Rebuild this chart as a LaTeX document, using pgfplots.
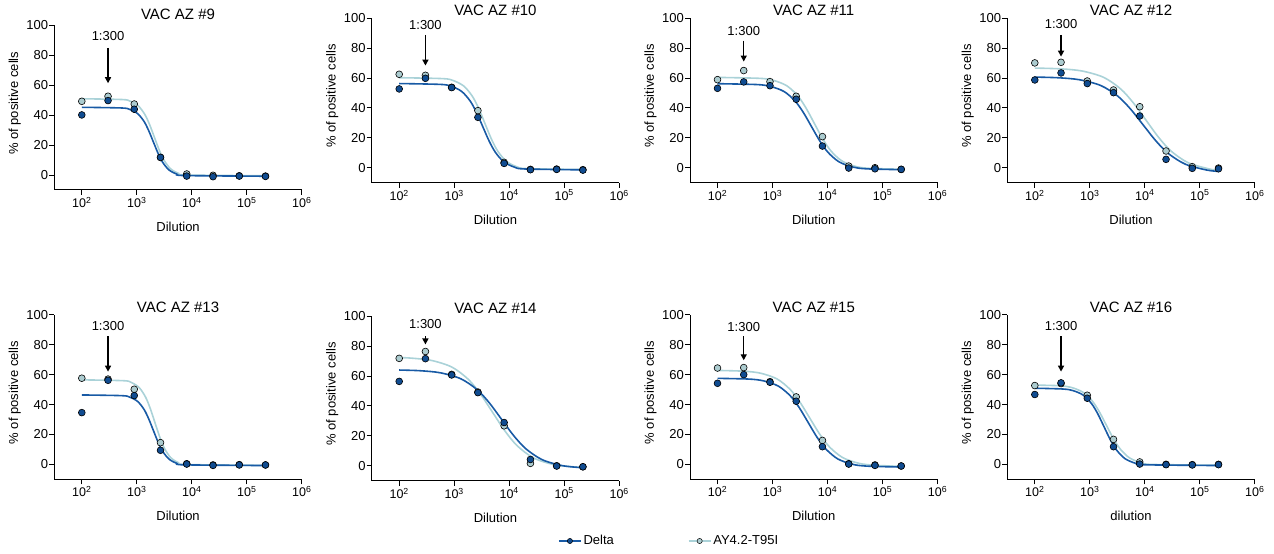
\documentclass[border=0pt]{standalone}
\usepackage{fontspec}
\setmainfont{Liberation Sans}
\usepackage{pgfplots}
\pgfplotsset{compat=1.18}
\usetikzlibrary{arrows.meta}

\definecolor{deltafill}{RGB}{16,76,145}
\definecolor{deltaline}{RGB}{24,90,165}
\definecolor{ayfill}{RGB}{172,204,208}
\definecolor{ayline}{RGB}{170,210,216}

\newcommand{\ticksize}{\fontsize{13}{15}\selectfont}
\newcommand{\xticksize}{\fontsize{12.5}{14}\selectfont}

\pgfplotsset{
  panel/.style={
    anchor=south west,
    scale only axis, width=247.5pt, height=164.5pt,
    xmin=1.5, xmax=6, ymin=-10, ymax=100,
    axis x line*=bottom, axis y line*=left,
    axis line style={line width=1pt, -},
    xtick={2,3,4,5,6},
    xticklabels={10\textsuperscript{2},10\textsuperscript{3},10\textsuperscript{4},10\textsuperscript{5},10\textsuperscript{6}},
    ytick={0,20,40,60,80,100},
    tick align=outside, major tick length=5pt,
    every tick/.style={line width=1pt, black},
    /pgf/number format/assume math mode=true,
    yticklabel style={font=\ticksize, inner sep=1pt},
    xticklabel style={font=\xticksize, inner sep=2pt},
    xlabel={Dilution}, ylabel={\% of positive cells},
    xlabel style={font=\ticksize, at={(axis description cs:0.5,0)}, anchor=base, yshift=-41.5pt},
    ylabel style={font=\ticksize, at={(axis description cs:-0.1596,0.527)}, anchor=center},
    title style={font=\fontsize{15}{17}\selectfont, at={(axis description cs:0.5,1)}, anchor=base, yshift=-3.4pt},
    clip=false,
  },
  curveD/.style={deltaline, line width=1.6pt, smooth, no marks},
  curveA/.style={ayline, line width=1.6pt, smooth, no marks},
  ptsD/.style={only marks, mark=*, mark size=3.4pt, mark options={fill=deltafill, draw=black, line width=0.6pt}},
  ptsA/.style={only marks, mark=*, mark size=3.4pt, mark options={fill=ayfill, draw=black, line width=0.6pt}},
}

% arrow and "1:300" label: text height, arrow start, arrow tip
\newcommand{\marker}[3]{%
  \node[font=\fontsize{13}{15}\selectfont, anchor=center] at (axis cs:2.477,#1) {1:300};
  \draw[line width=1.4pt, -{Triangle[length=6pt,width=6pt]}] (axis cs:2.477,#2) -- (axis cs:2.477,#3);
}

\begin{document}
\begin{tikzpicture}[x=1pt,y=1pt]
\useasboundingbox (0,0) rectangle (1274,554);

% ---------------- VAC AZ #9
\begin{axis}[panel, at={(54.3pt,364pt)}, title={VAC AZ \#9}, title style={yshift=3.4pt}]
\addplot[curveA] coordinates {(2,51.0)(2.732,50.49)(2.879,49.40)(3.026,46.31)(3.144,40.65)(3.232,33.80)(3.32,25.25)(3.408,16.70)(3.496,9.85)(3.614,4.18)(3.761,1.08)(3.908,0.01)(5.34,-0.5)};
\addplot[curveD] coordinates {(2,45.3)(2.729,44.84)(2.871,43.87)(3.014,41.10)(3.129,36.03)(3.214,29.90)(3.30,22.25)(3.386,14.60)(3.471,8.47)(3.586,3.39)(3.729,0.62)(3.871,-0.34)(5.34,-0.8)};
\addplot[ptsA] coordinates {(2,49.3)(2.477,52.7)(2.954,47.5)(3.431,11.8)(3.908,0.7)(4.386,-0.2)(4.863,-0.5)(5.340,-0.7)};
\addplot[ptsD] coordinates {(2,40.2)(2.477,49.8)(2.954,44.0)(3.431,11.8)(3.908,-0.7)(4.386,-1.1)(4.863,-0.7)(5.340,-0.9)};
\marker{92.8}{85}{61.4}
\end{axis}

% ---------------- VAC AZ #10
\begin{axis}[panel, at={(371.7pt,371.3pt)}, title={VAC AZ \#10}]
\addplot[curveA] coordinates {(2,60.2)(2.791,59.59)(2.983,58.30)(3.175,54.61)(3.329,47.86)(3.445,39.69)(3.56,29.50)(3.675,19.31)(3.791,11.14)(3.945,4.38)(4.137,0.68)(4.329,-0.59)(5.34,-1.2)};
\addplot[curveD] coordinates {(2,56.3)(2.751,55.72)(2.943,54.51)(3.135,51.05)(3.289,44.70)(3.405,37.03)(3.52,27.45)(3.635,17.87)(3.751,10.20)(3.905,3.84)(4.097,0.37)(4.289,-0.83)(5.34,-1.4)};
\addplot[ptsA] coordinates {(2,62.5)(2.477,61.8)(2.954,53.8)(3.431,38.2)(3.908,3.6)(4.386,-1.1)(4.863,-0.9)(5.340,-1.3)};
\addplot[ptsD] coordinates {(2,52.7)(2.477,59.8)(2.954,53.6)(3.431,33.7)(3.908,2.9)(4.386,-1.3)(4.863,-1.1)(5.340,-1.6)};
\marker{95.5}{88.8}{68.3}
\end{axis}

% ---------------- VAC AZ #11
\begin{axis}[panel, at={(690pt,371.3pt)}, title={VAC AZ \#11}]
\addplot[curveA] coordinates {(2,60.4)(2.76,59.79)(3.01,58.50)(3.26,54.81)(3.46,48.06)(3.61,39.89)(3.76,29.70)(3.91,19.51)(4.06,11.34)(4.26,4.58)(4.51,0.88)(4.76,-0.39)(5.34,-1.0)};
\addplot[curveD] coordinates {(2,56.2)(2.71,55.63)(2.96,54.42)(3.21,50.97)(3.41,44.64)(3.56,37.00)(3.71,27.45)(3.86,17.91)(4.01,10.26)(4.21,3.93)(4.46,0.47)(4.71,-0.73)(5.34,-1.3)};
\addplot[ptsA] coordinates {(2,58.9)(2.477,65.0)(2.954,57.6)(3.431,47.8)(3.908,20.8)(4.386,1.1)(4.863,0.0)(5.340,-1.1)};
\addplot[ptsD] coordinates {(2,53.1)(2.477,57.4)(2.954,54.9)(3.431,45.8)(3.908,14.5)(4.386,-0.2)(4.863,-0.7)(5.340,-1.1)};
\marker{91.7}{85}{71}
\end{axis}

% ---------------- VAC AZ #12
\begin{axis}[panel, at={(1007.3pt,371.3pt)}, title={VAC AZ \#12}]
\addplot[curveA] coordinates {(2,66.64)(2.482,66.10)(2.866,64.64)(3.251,60.45)(3.559,52.77)(3.789,43.49)(4.02,31.90)(4.251,20.31)(4.481,11.03)(4.789,3.34)(5.174,-0.86)(5.34,-1.68)};
\addplot[curveD] coordinates {(2,60.63)(2.432,60.16)(2.816,58.81)(3.201,54.95)(3.509,47.88)(3.739,39.32)(3.97,28.65)(4.201,17.98)(4.431,9.42)(4.739,2.34)(5.124,-1.53)(5.34,-2.45)};
\addplot[ptsA] coordinates {(2,70.1)(2.477,70.5)(2.954,58.0)(3.431,52.0)(3.908,40.8)(4.386,11.2)(4.863,0.7)(5.340,-0.2)};
\addplot[ptsD] coordinates {(2,58.7)(2.477,63.4)(2.954,56.3)(3.431,50.2)(3.908,34.6)(4.386,5.6)(4.863,-0.4)(5.340,-0.7)};
\marker{96}{88.8}{74.3}
\end{axis}

% ---------------- VAC AZ #13
\begin{axis}[panel, at={(54.3pt,74.7pt)}, title={VAC AZ \#13}]
\addplot[curveA] coordinates {(2,56.5)(2.759,55.93)(2.901,54.73)(3.044,51.29)(3.159,45.00)(3.244,37.40)(3.33,27.90)(3.416,18.40)(3.501,10.80)(3.616,4.50)(3.759,1.06)(3.901,-0.13)(5.34,-0.7)};
\addplot[curveD] coordinates {(2,46.4)(2.729,45.93)(2.871,44.94)(3.014,42.10)(3.129,36.91)(3.214,30.64)(3.30,22.80)(3.386,14.96)(3.471,8.69)(3.586,3.49)(3.729,0.65)(3.871,-0.33)(5.34,-0.8)};
\addplot[ptsA] coordinates {(2,57.6)(2.477,57.0)(2.954,50.2)(3.431,14.5)(3.908,0.4)(4.386,-0.4)(4.863,-0.2)(5.340,-0.4)};
\addplot[ptsD] coordinates {(2,34.6)(2.477,56.2)(2.954,46.0)(3.431,9.4)(3.908,0.2)(4.386,-0.7)(4.863,-0.4)(5.340,-0.4)};
\marker{92.6}{85.5}{62}
\end{axis}

% ---------------- VAC AZ #14
\begin{axis}[panel, at={(371.7pt,73.3pt)}, title={VAC AZ \#14}]
\addplot[curveA] coordinates {(2,72.33)(2.219,71.96)(2.589,70.40)(2.959,65.95)(3.256,57.79)(3.478,47.92)(3.70,35.60)(3.922,23.28)(4.144,13.41)(4.441,5.24)(4.811,0.78)(5.181,-0.77)(5.34,-1.05)};
\addplot[curveD] coordinates {(2,64.0)(2.379,63.54)(2.749,62.15)(3.119,58.18)(3.416,50.89)(3.638,42.09)(3.86,31.10)(4.082,20.11)(4.304,11.31)(4.601,4.02)(4.971,0.03)(5.34,-1.34)};
\addplot[ptsA] coordinates {(2,71.8)(2.477,76.4)(2.954,61.1)(3.431,49.3)(3.908,26.7)(4.386,1.6)(4.863,0.0)(5.340,-0.7)};
\addplot[ptsD] coordinates {(2,56.4)(2.477,71.6)(2.954,60.7)(3.431,48.9)(3.908,28.9)(4.386,4.2)(4.863,-0.2)(5.340,-0.7)};
\marker{94.9}{86.7}{81.1}
\end{axis}

% ---------------- VAC AZ #15
\begin{axis}[panel, at={(690pt,74.7pt)}, title={VAC AZ \#15}]
\addplot[curveA] coordinates {(2,62.8)(2.490,62.26)(2.787,60.91)(3.085,57.06)(3.323,50.00)(3.501,41.46)(3.68,30.80)(3.859,20.14)(4.037,11.60)(4.275,4.54)(4.573,0.67)(4.870,-0.66)(5.34,-1.3)};
\addplot[curveD] coordinates {(2,57.5)(2.575,57.01)(2.844,55.76)(3.112,52.20)(3.327,45.66)(3.489,37.76)(3.65,27.90)(3.811,18.04)(3.973,10.14)(4.188,3.60)(4.456,0.02)(4.725,-1.21)(5.34,-1.8)};
\addplot[ptsA] coordinates {(2,64.4)(2.477,64.7)(2.954,55.3)(3.431,45.1)(3.908,16.0)(4.386,0.4)(4.863,-0.4)(5.340,-1.1)};
\addplot[ptsD] coordinates {(2,54.2)(2.477,60.0)(2.954,54.9)(3.431,42.2)(3.908,11.8)(4.386,0.2)(4.863,-0.7)(5.340,-1.1)};
\marker{91.8}{85.6}{69.6}
\end{axis}

% ---------------- VAC AZ #16
\begin{axis}[panel, at={(1007.3pt,74.7pt)}, title={VAC AZ \#16}, xlabel={dilution}]
\addplot[curveA] coordinates {(2,53.0)(2.453,52.56)(2.664,51.44)(2.876,48.21)(3.046,42.31)(3.173,35.16)(3.30,26.25)(3.427,17.34)(3.554,10.19)(3.724,4.28)(3.936,1.05)(4.147,-0.07)(5.34,-0.6)};
\addplot[curveD] coordinates {(2,50.9)(2.508,50.38)(2.696,49.30)(2.884,46.20)(3.034,40.51)(3.147,33.63)(3.26,25.05)(3.373,16.47)(3.486,9.59)(3.636,3.90)(3.824,0.79)(4.012,-0.29)(5.34,-0.8)};
\addplot[ptsA] coordinates {(2,52.7)(2.477,54.0)(2.954,46.2)(3.431,16.7)(3.908,1.6)(4.386,0.0)(4.863,-0.2)(5.340,0.0)};
\addplot[ptsD] coordinates {(2,46.7)(2.477,54.5)(2.954,44.2)(3.431,11.8)(3.908,0.2)(4.386,-0.2)(4.863,-0.4)(5.340,-0.2)};
\marker{92.2}{85.5}{62}
\end{axis}

% ---------------- shared legend
\begin{axis}[at={(555pt,13pt)}, anchor=west, hide axis, scale only axis,
  width=2pt, height=2pt, xmin=0, xmax=1, ymin=0, ymax=1,
  legend columns=2,
  legend style={draw=none, fill=none, at={(0,0.5)}, anchor=west,
    font=\fontsize{13}{15}\selectfont,
    /tikz/every even column/.append style={column sep=72pt}},
  legend image code/.code={\draw[mark repeat=2,mark phase=2,#1] plot coordinates {(0pt,0pt) (11pt,0pt) (22pt,0pt)};}]
\addlegendimage{deltaline, line width=1.4pt, mark=*, mark size=2.6pt, mark options={fill=deltafill, draw=black, line width=0.5pt}}
\addlegendentry{Delta}
\addlegendimage{ayline, line width=1.4pt, mark=*, mark size=2.6pt, mark options={fill=ayfill, draw=black, line width=0.5pt}}
\addlegendentry{AY4.2-T95I}
\end{axis}
\end{tikzpicture}
\end{document}
